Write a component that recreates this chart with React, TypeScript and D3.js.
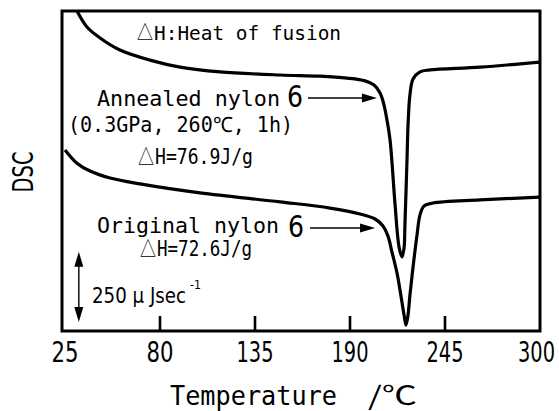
import React from 'react';
import * as d3 from 'd3';

// annealed nylon 6 (upper trace)
const tempAnnealed = [26.7, 31.9, 37.7, 45.3, 56.8, 74.2, 91.6, 114.7, 149.5, 172.6, 188.3, 198.7, 203.9, 207.4, 209.7, 211.4, 213.2, 216.1, 218.4, 220.1, 221.3, 221.8, 223.0, 223.6, 224.7, 226.5, 230.5, 236.3, 265.3, 300];
const dscAnnealed = [1208, 1140, 1083, 1044, 1001, 965, 940, 923, 912, 908, 901, 891, 876, 848, 805, 752, 680, 449, 299, 264, 296, 378, 609, 734, 841, 898, 923, 930, 940, 958];

// original nylon 6 (lower trace)
const tempOriginal = [25, 31.9, 39.5, 51.1, 68.4, 103.2, 149.5, 178.4, 195.8, 204.5, 209.1, 212.0, 214.3, 217.2, 219.5, 221.3, 222.4, 223.6, 224.7, 226.5, 228.8, 230.5, 232.8, 238.0, 265.3, 300];
const dscOriginal = [645, 598, 570, 545, 524, 492, 460, 438, 417, 399, 374, 338, 281, 207, 125, 57, 21, 57, 128, 228, 342, 413, 445, 456, 467, 477];

const xTicks = [25, 80, 135, 190, 245, 300];
const scaleBarValue = 250; // μJ/s
const scaleBarBase = 32;
const scaleBarTemp = 33;
const arrowAnnealed = { from: 165.7, to: 205.6, level: 830 };
const arrowOriginal = { from: 166.9, to: 204.5, level: 367 };

const W = 559;
const H = 411;
const frame = { left: 62, right: 540, top: 11, bottom: 331 };

const x = d3.scaleLinear().domain([25, 300]).range([65, 540]);
const y = d3.scaleLinear().domain([0, 1140]).range([331, 11]);

const line = d3.line<[number, number]>()
  .x(d => x(d[0]))
  .y(d => y(d[1]))
  .curve(d3.curveCatmullRom.alpha(0.5));

const mono = '"DejaVu Sans Mono", monospace';
const sans = '"DejaVu Sans", sans-serif';
const cjk = '"Noto Sans CJK JP", sans-serif';

// plain text helper, squeezed to the width measured on the reference
function T(props: { x: number; y: number; size: number; w: number; font?: string; anchor?: string; children: React.ReactNode }) {
  return (
    <text x={props.x} y={props.y} fontFamily={props.font || mono} fontSize={props.size} textAnchor={props.anchor}
      textLength={props.w} lengthAdjust="spacingAndGlyphs">{props.children}</text>
  );
}

function hArrow(a: { from: number; to: number; level: number }) {
  const x0 = x(a.from), x1 = x(a.to), yy = y(a.level);
  return (
    <g>
      <line x1={x0} y1={yy} x2={x1 - 12} y2={yy} stroke="#000" strokeWidth={1.4} />
      <path d={`M${x1},${yy} L${x1 - 15},${yy - 4.5} L${x1 - 15},${yy + 4.5} Z`} fill="#000" />
    </g>
  );
}

export default function App() {
  const annealed = tempAnnealed.map((t, i) => [t, dscAnnealed[i]] as [number, number]);
  const original = tempOriginal.map((t, i) => [t, dscOriginal[i]] as [number, number]);

  const sbX = x(scaleBarTemp);
  const sbTop = y(scaleBarBase + scaleBarValue);
  const sbBot = y(scaleBarBase);

  return (
    <svg width={W} height={H} style={{ position: 'absolute', left: 0, top: 0, background: '#fff' }}>
      <defs>
        <clipPath id="plot">
          <rect x={frame.left} y={frame.top} width={frame.right - frame.left} height={frame.bottom - frame.top} />
        </clipPath>
      </defs>

      <g clipPath="url(#plot)" fill="none" stroke="#000" strokeWidth={3.2} strokeLinejoin="round">
        <path d={line(annealed) || ''} />
        <path d={line(original) || ''} />
      </g>

      {/* frame */}
      <rect x={frame.left} y={frame.top} width={frame.right - frame.left} height={frame.bottom - frame.top}
        fill="none" stroke="#000" strokeWidth={3} />

      {/* inward ticks */}
      {xTicks.slice(1, -1).map(t => (
        <line key={t} x1={x(t)} x2={x(t)} y1={frame.bottom} y2={frame.bottom - 15} stroke="#000" strokeWidth={2.6} />
      ))}
      {xTicks.map((t, i) => {
        const w = String(t).length === 2 ? 27 : 37;
        const last = i === xTicks.length - 1;
        const cx = last ? W - 4 : Math.max(x(t), w / 2 + 3);
        return (
          <text key={t} x={cx} y={362} textAnchor={last ? 'end' : 'middle'} fontFamily={sans} fontSize={28}
            textLength={w} lengthAdjust="spacingAndGlyphs">{t}</text>
        );
      })}

      <T x={170} y={405} size={27} w={167}>Temperature</T>
      <T x={368} y={405} size={26} w={49} font={cjk}>/℃</T>

      <text transform="translate(33,172) rotate(-90)" textAnchor="middle" fontFamily={sans} fontSize={29}
        textLength={41} lengthAdjust="spacingAndGlyphs">DSC</text>

      {/* annotations */}
      <T x={137} y={40} size={20} w={16} font={cjk}>△</T>
      <T x={154} y={40} size={20} w={187}>H:Heat of fusion</T>

      <T x={97} y={106} size={21} w={183}>Annealed nylon</T>
      <T x={287} y={107} size={30} w={16} font={sans}>6</T>
      {hArrow(arrowAnnealed)}
      <T x={68} y={132} size={21} w={225}>(0.3GPa, 260℃, 1h)</T>
      <T x={138} y={164} size={21} w={16} font={cjk}>△</T>
      <T x={155} y={164} size={21} w={98}>H=76.9J/g</T>

      <T x={97} y={233} size={21} w={182}>Original nylon</T>
      <T x={288} y={237} size={30} w={16} font={sans}>6</T>
      {hArrow(arrowOriginal)}
      <T x={140} y={256} size={21} w={16} font={cjk}>△</T>
      <T x={157} y={256} size={21} w={95}>H=72.6J/g</T>

      {/* scale bar */}
      <line x1={sbX} x2={sbX} y1={sbTop + 12} y2={sbBot - 12} stroke="#000" strokeWidth={1.4} />
      <path d={`M${sbX},${sbTop} L${sbX - 4.5},${sbTop + 15} L${sbX + 4.5},${sbTop + 15} Z`} fill="#000" />
      <path d={`M${sbX},${sbBot} L${sbX - 4.5},${sbBot - 15} L${sbX + 4.5},${sbBot - 15} Z`} fill="#000" />
      <T x={92} y={303} size={22} w={94} font={sans}>250 μ Jsec</T>
      <T x={190} y={289} size={13} w={11} font={sans}>-1</T>
    </svg>
  );
}
